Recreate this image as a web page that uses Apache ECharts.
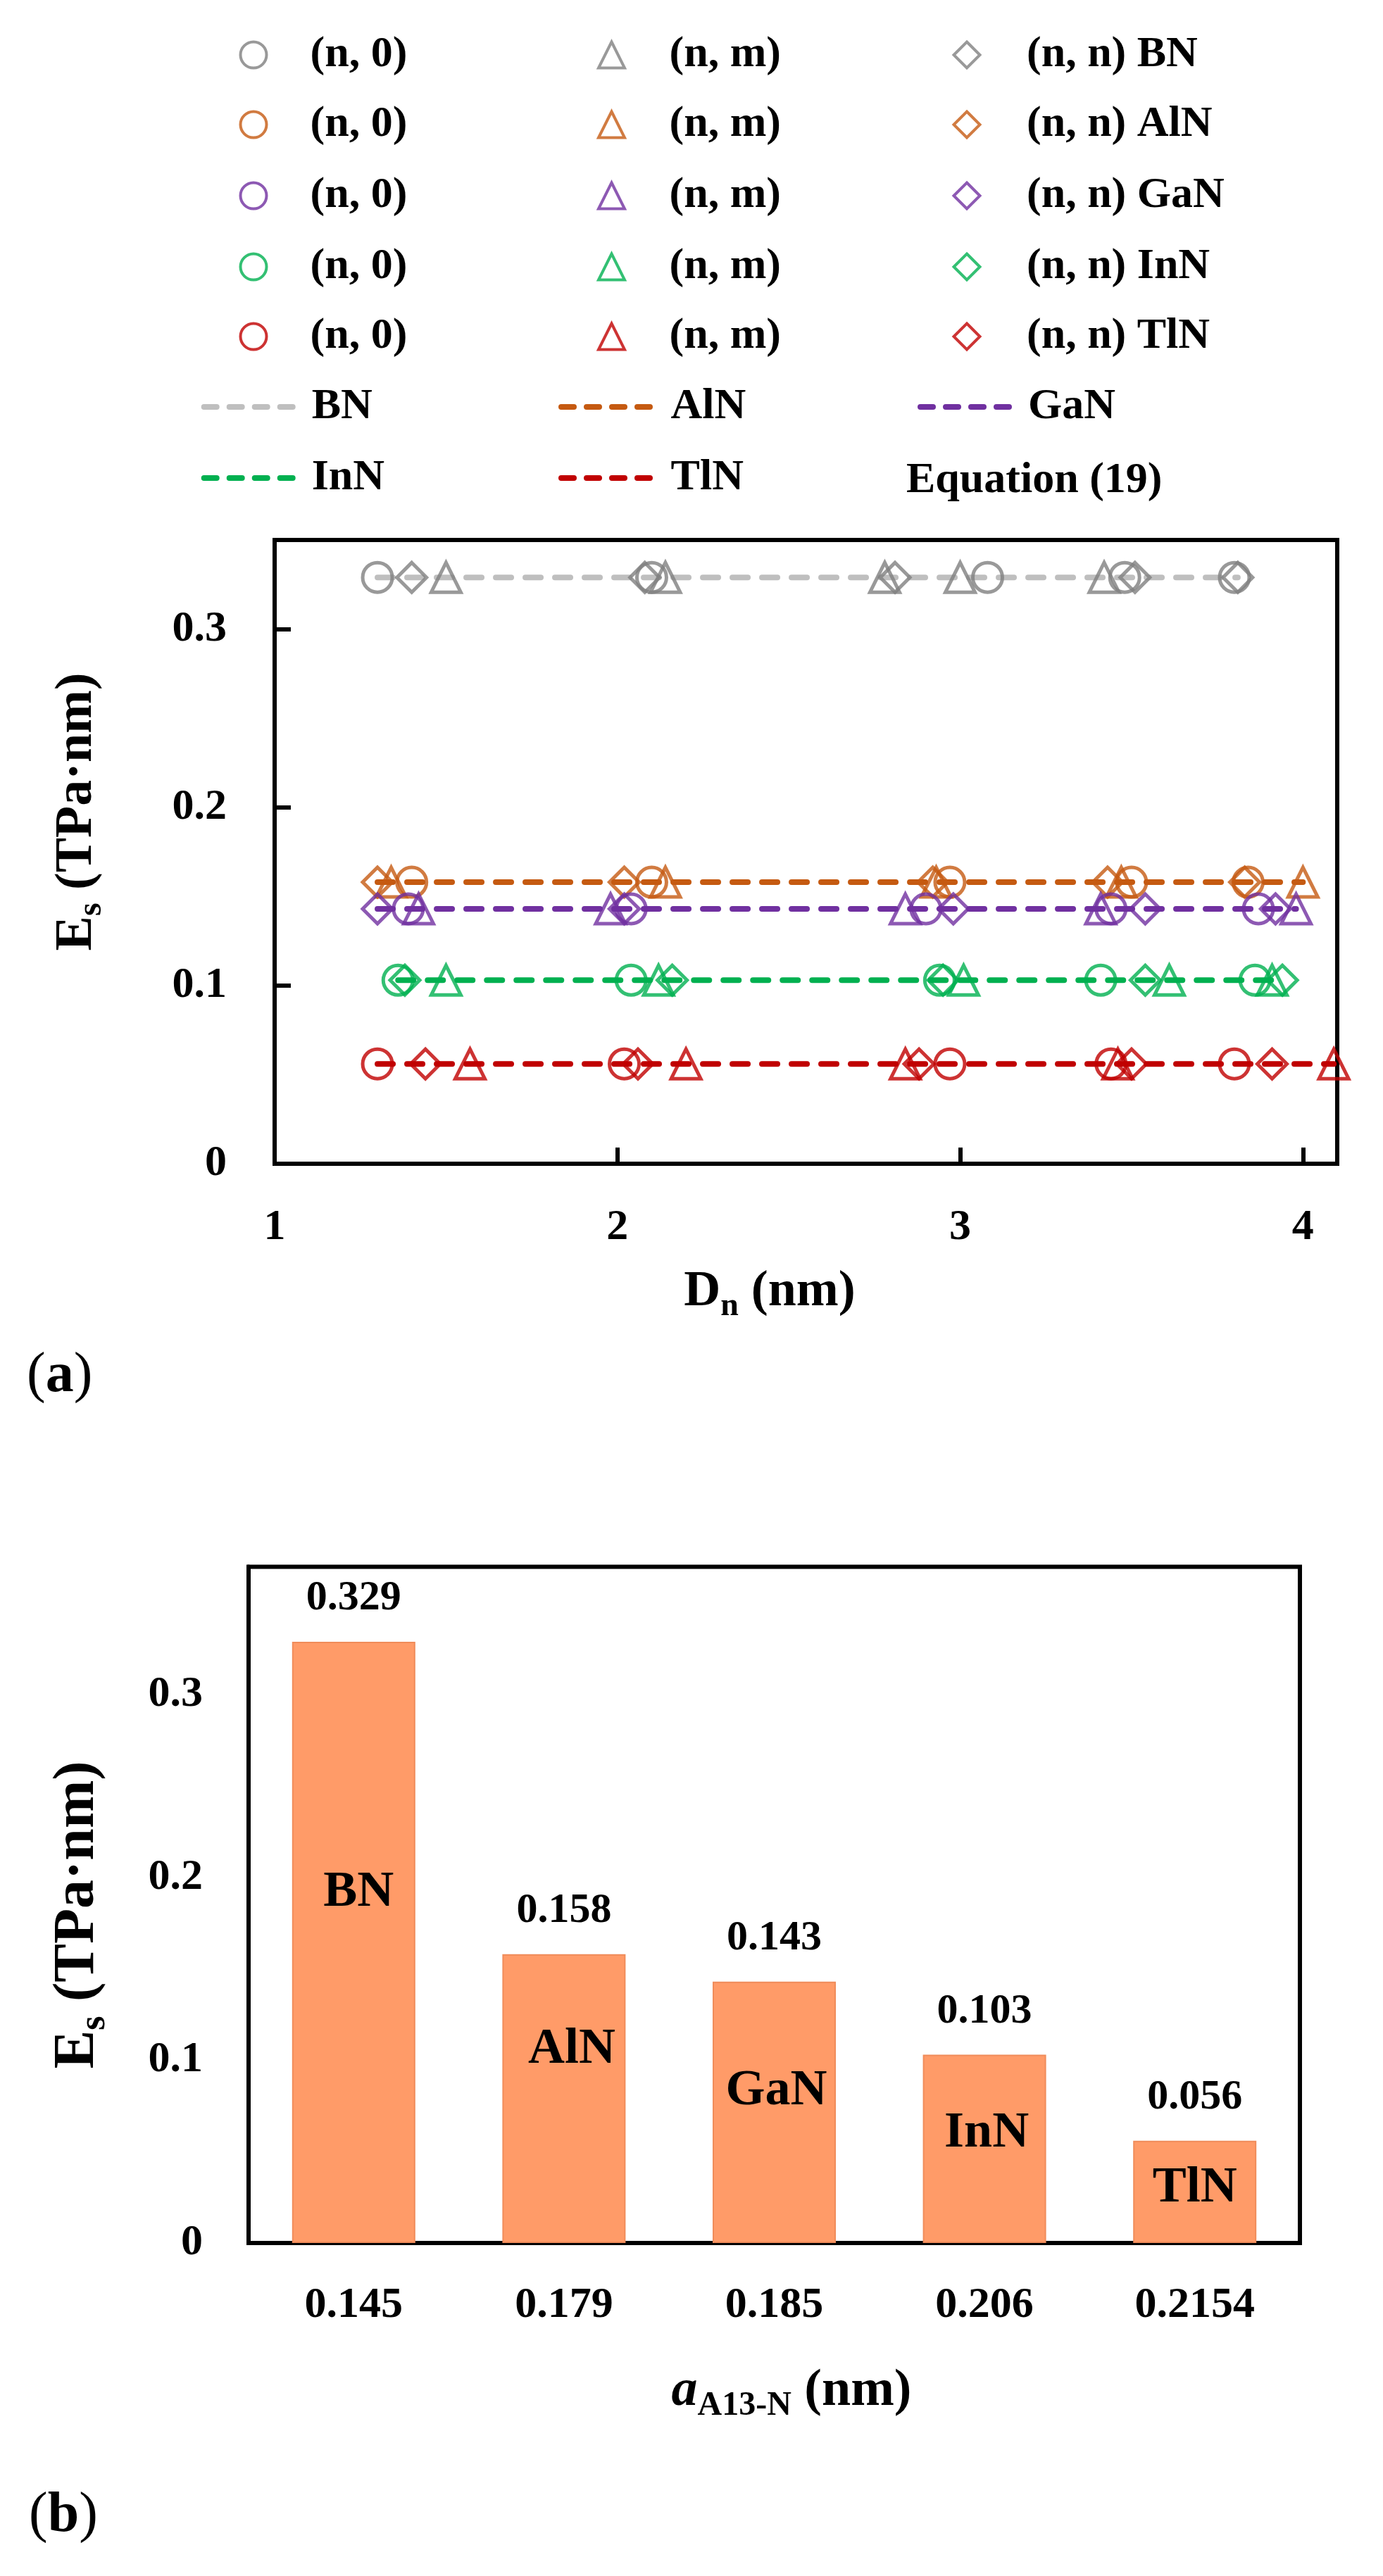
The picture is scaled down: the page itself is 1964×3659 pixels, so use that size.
<!DOCTYPE html>
<html>
<head>
<meta charset="utf-8">
<script src="https://cdn.jsdelivr.net/npm/echarts@6/dist/echarts.min.js"></script>
<style>
html,body{margin:0;padding:0;background:#fff;}
#c{width:1964px;height:3659px;}
</style>
</head>
<body>
<div id="c"></div>
<script>
// ---------- data ----------
const materials = ['BN', 'AlN', 'GaN', 'InN', 'TlN'];
const esValues = [0.329, 0.158, 0.143, 0.103, 0.056];          // Es (TPa·nm), Equation (19)
const latticeLabels = ['0.145', '0.179', '0.185', '0.206', '0.2154']; // a_A13-N (nm)

// D_n (nm) of the simulated tubes: (n,0) zigzag, (n,m) chiral, (n,n) armchair
const bnZigzag    = [1.30, 2.10, 3.08, 3.48, 3.80];
const bnChiral    = [1.50, 2.14, 2.78, 3.00, 3.42];
const bnArmchair  = [1.40, 2.08, 2.81, 3.51, 3.81];
const alnZigzag   = [1.40, 2.10, 2.97, 3.50, 3.84];
const alnChiral   = [1.34, 2.14, 2.93, 3.47, 4.00];
const alnArmchair = [1.30, 2.02, 2.92, 3.43, 3.83];
const ganZigzag   = [1.39, 2.04, 2.90, 3.44, 3.87];
const ganChiral   = [1.42, 1.98, 2.84, 3.41, 3.98];
const ganArmchair = [1.30, 2.02, 2.98, 3.54, 3.92];
const innZigzag   = [1.36, 2.04, 2.94, 3.41, 3.86];
const innChiral   = [1.50, 2.12, 3.01, 3.61, 3.91];
const innArmchair = [1.38, 2.16, 2.95, 3.54, 3.94];
const tlnZigzag   = [1.30, 2.02, 2.97, 3.44, 3.80];
const tlnChiral   = [1.57, 2.20, 2.84, 3.46, 4.09];
const tlnArmchair = [1.44, 2.06, 2.88, 3.50, 3.91];

const zigzagD   = [bnZigzag, alnZigzag, ganZigzag, innZigzag, tlnZigzag];
const chiralD   = [bnChiral, alnChiral, ganChiral, innChiral, tlnChiral];
const armchairD = [bnArmchair, alnArmchair, ganArmchair, innArmchair, tlnArmchair];

const xTicksA = [1, 2, 3, 4];
const yTicksA = [0, 0.1, 0.2, 0.3];

// ---------- styles ----------
const F = '"Liberation Serif", "Times New Roman", serif';
const markerColors = ['#7f7f7f', '#c55a11', '#7030a0', '#00b050', '#c00000'];
const lineColors   = ['#bfbfbf', '#c55a11', '#7030a0', '#00b050', '#c00000'];
const typeDefs = [
  { key: '(n, 0)', symbol: 'circle',   sets: zigzagD },
  { key: '(n, m)', symbol: 'triangle', sets: chiralD },
  { key: '(n, n)', symbol: 'diamond',  sets: armchairD }
];
const innerLabelOffsets = [[7, -71], [11, -70], [3, -30], [3, -22], [0, -5]];

// legend layout (styling only)
const legendRowCenters = [82, 181, 282, 383, 482];
const legendColCenters = [358, 866.5, 1371];
const legendTextPads = [57, 58.6, 61.5];
const lineLegendSlots = [[285.7, 582, 7], [793, 582, 9.6], [1303, 582, 7], [285.7, 683, 7], [793, 683, 9.6]];
const LH = 70, LFS = 62, ICON = 37;

function legendText(pad) {
  return {
    rich: {
      p: { width: pad, fontSize: LFS, lineHeight: LH, fontFamily: F },
      t: { fontSize: LFS, fontWeight: 'bold', fontFamily: F, color: '#000', lineHeight: LH }
    }
  };
}

// ---------- series ----------
const series = [];
const legends = [];

materials.forEach((m, i) => {
  typeDefs.forEach((t, j) => {
    const name = t.key + ' ' + m;
    series.push({
      type: 'scatter',
      name: name,
      xAxisIndex: 0, yAxisIndex: 0,
      symbol: t.symbol,
      symbolSize: 42,
      itemStyle: { color: 'rgba(0,0,0,0)', borderColor: markerColors[i], borderWidth: 5 },
      data: t.sets[i].map(x => [x, esValues[i]]),
      z: 3,
      silent: true
    });
    const display = j === 2 ? name : t.key;
    legends.push({
      show: true,
      left: legendColCenters[j] - ICON / 2,
      top: legendRowCenters[i] - LH / 2,
      padding: 0,
      orient: 'horizontal',
      selectedMode: false,
      itemWidth: ICON, itemHeight: ICON,
      itemStyle: { borderWidth: 4 },
      data: [{ name: name, icon: t.symbol }],
      formatter: () => '{p| }{t|' + display + '}',
      textStyle: legendText(legendTextPads[j])
    });
  });
  const allD = [].concat(zigzagD[i], chiralD[i], armchairD[i]);
  series.push({
    type: 'line',
    name: m,
    xAxisIndex: 0, yAxisIndex: 0,
    symbol: 'none',
    data: [[Math.min(...allD), esValues[i]], [Math.max(...allD), esValues[i]]],
    lineStyle: { color: lineColors[i], width: 8, type: [22, 20], cap: 'round' },
    z: 2,
    silent: true
  });
  const slot = lineLegendSlots[i];
  legends.push({
    show: true,
    left: slot[0],
    top: slot[1] - LH / 2,
    padding: 0,
    orient: 'horizontal',
    selectedMode: false,
    itemWidth: 141, itemHeight: ICON,
    lineStyle: { width: 8, type: [18, 18], cap: 'round' },
    data: [{ name: m, itemStyle: { opacity: 0, color: 'rgba(0,0,0,0)', borderWidth: 0 } }],
    formatter: () => '{p| }{t|' + m + '}',
    textStyle: legendText(slot[2])
  });
});

// bar chart (b)
series.push({
  type: 'bar',
  name: 'Es bars',
  xAxisIndex: 1, yAxisIndex: 1,
  data: esValues,
  barWidth: 175,
  barGap: '-100%',
  itemStyle: { color: '#ff9b68', borderColor: '#f08c5a', borderWidth: 2 },
  label: {
    show: true, position: 'top', distance: 31,
    fontSize: 60, fontWeight: 'bold', fontFamily: F, color: '#000'
  },
  silent: true,
  z: 2
});
series.push({
  type: 'bar',
  name: 'Es names',
  xAxisIndex: 1, yAxisIndex: 1,
  data: esValues.map((v, i) => ({ value: v, label: { offset: innerLabelOffsets[i] } })),
  barWidth: 175,
  barGap: '-100%',
  itemStyle: { color: 'rgba(0,0,0,0)' },
  label: {
    show: true, position: 'inside',
    formatter: p => materials[p.dataIndex],
    fontSize: 72, fontWeight: 'bold', fontFamily: F, color: '#000'
  },
  silent: true,
  z: 3
});

const axisLabelStyle = { fontSize: 62, fontWeight: 'bold', fontFamily: F, color: '#000' };

const option = {
  animation: false,
  backgroundColor: '#fff',
  grid: [
    { left: 390, top: 767, width: 1509, height: 886, show: true, borderColor: '#000', borderWidth: 6, backgroundColor: 'rgba(0,0,0,0)', containLabel: false, outerBoundsMode: 'none' },
    { left: 353, top: 2225.5, width: 1493, height: 960.5, show: true, borderColor: '#000', borderWidth: 6, backgroundColor: 'rgba(0,0,0,0)', containLabel: false, outerBoundsMode: 'none' }
  ],
  xAxis: [
    {
      type: 'value', gridIndex: 0,
      min: xTicksA[0], max: 4.1, interval: 1,
      axisLine: { show: true, lineStyle: { color: '#000', width: 6 } },
      axisTick: { show: true, inside: true, length: 23, lineStyle: { color: '#000', width: 6 } },
      splitLine: { show: false },
      axisLabel: Object.assign({ margin: 60, showMaxLabel: false, showMinLabel: true,
        formatter: v => (xTicksA.indexOf(v) >= 0 ? String(v) : '') }, axisLabelStyle)
    },
    {
      type: 'category', gridIndex: 1,
      data: latticeLabels,
      axisLine: { show: true, lineStyle: { color: '#000', width: 6 } },
      axisTick: { show: false },
      splitLine: { show: false },
      axisLabel: Object.assign({ margin: 58, interval: 0 }, axisLabelStyle)
    }
  ],
  yAxis: [
    {
      type: 'value', gridIndex: 0,
      min: yTicksA[0], max: 0.35, interval: 0.1,
      axisLine: { show: true, lineStyle: { color: '#000', width: 6 } },
      axisTick: { show: true, inside: true, length: 23, lineStyle: { color: '#000', width: 6 } },
      splitLine: { show: false },
      axisLabel: Object.assign({ margin: 68, showMaxLabel: false,
        formatter: v => { const r = Math.round(v * 10) / 10; return Math.abs(v - r) < 1e-9 ? String(r) : ''; } }, axisLabelStyle)
    },
    {
      type: 'value', gridIndex: 1,
      min: 0, max: 0.37, interval: 0.1,
      axisLine: { show: true, lineStyle: { color: '#000', width: 6 } },
      axisTick: { show: false },
      splitLine: { show: false },
      axisLabel: Object.assign({ margin: 65, showMaxLabel: false,
        formatter: v => { const r = Math.round(v * 10) / 10; return Math.abs(v - r) < 1e-9 ? String(r) : ''; } }, axisLabelStyle)
    }
  ],
  legend: legends,
  graphic: [
    {
      type: 'text', x: 1287, y: 683, silent: true,
      style: { text: 'Equation (19)', fontSize: LFS, fontWeight: 'bold', fontFamily: F, fill: '#000', align: 'left', verticalAlign: 'middle' }
    },
    {
      type: 'text', x: 110, y: 1153, rotation: Math.PI / 2, silent: true,
      style: {
        text: '{m|E}{s|s}{m| (TPa·nm)}', align: 'center', verticalAlign: 'middle',
        rich: {
          m: { fontSize: 74, fontWeight: 'bold', fontFamily: F, fill: '#000', color: '#000', lineHeight: 90 },
          s: { fontSize: 48, fontWeight: 'bold', fontFamily: F, fill: '#000', color: '#000', lineHeight: 48, verticalAlign: 'bottom' }
        }
      }
    },
    {
      type: 'text', x: 1093, y: 1835, silent: true,
      style: {
        text: '{m|D}{s|n}{m| (nm)}', align: 'center', verticalAlign: 'middle',
        rich: {
          m: { fontSize: 72, fontWeight: 'bold', fontFamily: F, fill: '#000', color: '#000', lineHeight: 88 },
          s: { fontSize: 46, fontWeight: 'bold', fontFamily: F, fill: '#000', color: '#000', lineHeight: 46, verticalAlign: 'bottom' }
        }
      }
    },
    {
      type: 'text', x: 38, y: 1955, silent: true,
      style: {
        text: '{n|(}{b|a}{n|)}', align: 'left', verticalAlign: 'middle',
        rich: {
          n: { fontSize: 80, fontFamily: F, fill: '#000', color: '#000' },
          b: { fontSize: 80, fontWeight: 'bold', fontFamily: F, fill: '#000', color: '#000' }
        }
      }
    },
    {
      type: 'text', x: 111, y: 2720, rotation: Math.PI / 2, silent: true,
      style: {
        text: '{m|E}{s|s}{m| (TPa·nm)}', align: 'center', verticalAlign: 'middle',
        rich: {
          m: { fontSize: 82, fontWeight: 'bold', fontFamily: F, fill: '#000', color: '#000', lineHeight: 100 },
          s: { fontSize: 52, fontWeight: 'bold', fontFamily: F, fill: '#000', color: '#000', lineHeight: 52, verticalAlign: 'bottom' }
        }
      }
    },
    {
      type: 'text', x: 1124, y: 3397, silent: true,
      style: {
        text: '{i|a}{s|A13-N}{m| (nm)}', align: 'center', verticalAlign: 'middle',
        rich: {
          i: { fontSize: 74, fontWeight: 'bold', fontStyle: 'italic', fontFamily: F, fill: '#000', color: '#000', lineHeight: 90 },
          s: { fontSize: 48, fontWeight: 'bold', fontFamily: F, fill: '#000', color: '#000', lineHeight: 48, verticalAlign: 'bottom' },
          m: { fontSize: 74, fontWeight: 'bold', fontFamily: F, fill: '#000', color: '#000', lineHeight: 90 }
        }
      }
    },
    {
      type: 'text', x: 41, y: 3574, silent: true,
      style: {
        text: '{n|(}{b|b}{n|)}', align: 'left', verticalAlign: 'middle',
        rich: {
          n: { fontSize: 80, fontFamily: F, fill: '#000', color: '#000' },
          b: { fontSize: 80, fontWeight: 'bold', fontFamily: F, fill: '#000', color: '#000' }
        }
      }
    }
  ],
  series: series
};

const chart = echarts.init(document.getElementById('c'), null, { renderer: 'canvas', width: 1964, height: 3659 });
chart.setOption(option);
</script>
</body>
</html>
